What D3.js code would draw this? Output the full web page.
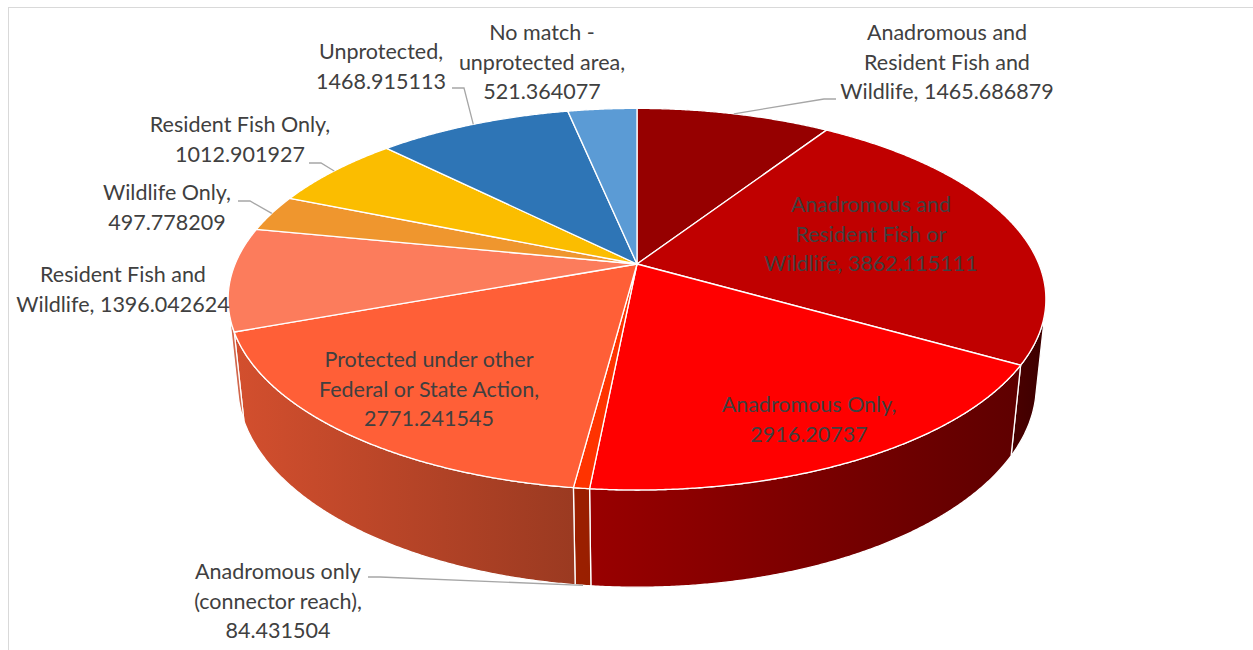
<!DOCTYPE html>
<html>
<head>
<meta charset="utf-8">
<script src="https://cdn.jsdelivr.net/npm/d3@7"></script>
<style>
  html, body { margin: 0; padding: 0; background: #fff; }
  svg { display: block; }
  .label { font-family: Lato, "Open Sans", sans-serif; font-size: 21.5px; fill: #404040; }
  .leader { fill: none; stroke: #A6A6A6; stroke-width: 1.3; }
</style>
</head>
<body>
<script>
const categories = [
  "Anadromous and Resident Fish and Wildlife",
  "Anadromous and Resident Fish or Wildlife",
  "Anadromous Only",
  "Anadromous only (connector reach)",
  "Protected under other Federal or State Action",
  "Resident Fish and Wildlife",
  "Wildlife Only",
  "Resident Fish Only",
  "Unprotected",
  "No match - unprotected area"
];
const values = [
  1465.686879, 3862.115111, 2916.20737, 84.431504, 2771.241545,
  1396.042624, 497.778209, 1012.901927, 1468.915113, 521.364077
];
const colors = [
  "#960000", "#C00000", "#FF0000", "#FF3300", "#FF5F37",
  "#FC7C5C", "#EF962E", "#FBBD00", "#2E75B6", "#5B9BD5"
];
// words per line for each wrapped label "category, value"
const lineWords = [[2, 3, 2], [2, 3, 2], [2, 1], [2, 2, 1], [3, 4, 1], [3, 2], [2, 1], [3, 1], [1, 1], [3, 2, 1]];

// label block: centre x, first baseline y; leader: text-side end point (null = no leader)
const labelAt = [
  { x: 947, y: 40, leader: [836, 99] },
  { x: 871, y: 212, leader: null },
  { x: 809, y: 412, leader: null },
  { x: 278, y: 579, leader: [368, 577], rim: "bottom" },
  { x: 429, y: 367, leader: null },
  { x: 123, y: 282, leader: null },
  { x: 167, y: 200, leader: [238, 201] },
  { x: 240, y: 132, leader: [309, 163] },
  { x: 381, y: 59, leader: [452, 88] },
  { x: 542, y: 40, leader: null }
];

const width = 1253;
const height = 650;
const cx = 637, cy = 264;
const tilt = (27.3 * Math.PI) / 180;
const camDist = 4.82; // camera distance, in pie radii
const depth = 0.243;  // pie thickness, in pie radii
const focal = 1937;
const lineGap = 29.5;

function project(theta, y, r = 1) {
  const X = r * Math.sin(theta);
  const Z = -r * Math.cos(theta);
  const d = camDist - Z * Math.cos(tilt) - y * Math.sin(tilt);
  const v = Z * Math.sin(tilt) - y * Math.cos(tilt);
  return [cx + (focal * X) / d, cy + (focal * v) / d];
}

function rim(a0, a1, y) {
  const n = Math.max(2, Math.ceil(Math.abs(a1 - a0) / 0.005));
  return d3.range(n + 1).map((i) => project(a0 + ((a1 - a0) * i) / n, y));
}

const rad = (deg) => (deg * Math.PI) / 180;
const shade = d3.scaleLinear().domain([rad(120), rad(250)]).range([0.37, 0.83]);
const darken = (col, f) => {
  const c = d3.rgb(col);
  return d3.rgb(c.r * f, c.g * f, c.b * f).formatHex();
};

const svg = d3
  .select("body")
  .append("svg")
  .attr("width", width)
  .attr("height", height);

svg
  .append("rect")
  .attr("x", 8.5)
  .attr("y", 7.5)
  .attr("width", 1300)
  .attr("height", 700)
  .attr("fill", "none")
  .attr("stroke", "#D9D9D9");

const arcs = d3.pie().sort(null).value((d) => d)(values);
const line = d3.line();
const defs = svg.append("defs");

// outer walls, only the part facing the camera
const vis0 = Math.acos(-1 / (camDist * Math.cos(tilt)));
const vis1 = 2 * Math.PI - vis0;

const walls = svg.append("g");
arcs.forEach((d, i) => {
  const a = Math.max(d.startAngle, vis0);
  const b = Math.min(d.endAngle, vis1);
  if (a >= b) return;
  const grad = defs
    .append("linearGradient")
    .attr("id", `wall${i}`)
    .attr("gradientUnits", "userSpaceOnUse")
    .attr("x1", project(a, 0)[0])
    .attr("x2", project(b, 0)[0])
    .attr("y1", 0)
    .attr("y2", 0);
  grad.append("stop").attr("offset", 0).attr("stop-color", darken(colors[i], shade(a)));
  grad.append("stop").attr("offset", 1).attr("stop-color", darken(colors[i], shade(b)));
  const pts = rim(a, b, 0).concat(rim(b, a, -depth));
  walls
    .append("path")
    .attr("d", line(pts) + "Z")
    .attr("fill", `url(#wall${i})`)
    .attr("stroke", "#fff")
    .attr("stroke-width", 1.3)
    .attr("stroke-linejoin", "round");
});

// top faces
svg
  .append("g")
  .selectAll("path")
  .data(arcs)
  .join("path")
  .attr("d", (d) => line([[cx, cy]].concat(rim(d.startAngle, d.endAngle, 0))) + "Z")
  .attr("fill", (d, i) => colors[i])
  .attr("stroke", "#fff")
  .attr("stroke-width", 1.3)
  .attr("stroke-linejoin", "round");

// leader lines
arcs.forEach((d, i) => {
  const lab = labelAt[i];
  if (!lab.leader) return;
  const mid = (d.startAngle + d.endAngle) / 2;
  const start = project(mid, lab.rim === "bottom" ? -depth : 0);
  const end = lab.leader;
  const elbow = [end[0] + Math.sign(start[0] - end[0]) * 12, end[1]];
  svg.append("path").attr("class", "leader").attr("d", line([start, elbow, end]));
});

// labels
const labels = svg.append("g");
categories.forEach((cat, i) => {
  const words = `${cat}, ${values[i]}`.split(" ");
  let k = 0;
  const lines = lineWords[i].map((n) => {
    const s = words.slice(k, k + n).join(" ");
    k += n;
    return s;
  });
  const t = labels
    .append("text")
    .attr("class", "label")
    .attr("text-anchor", "middle");
  lines.forEach((s, j) => {
    t.append("tspan")
      .attr("x", labelAt[i].x)
      .attr("y", labelAt[i].y + j * lineGap)
      .text(s);
  });
});
</script>
</body>
</html>
